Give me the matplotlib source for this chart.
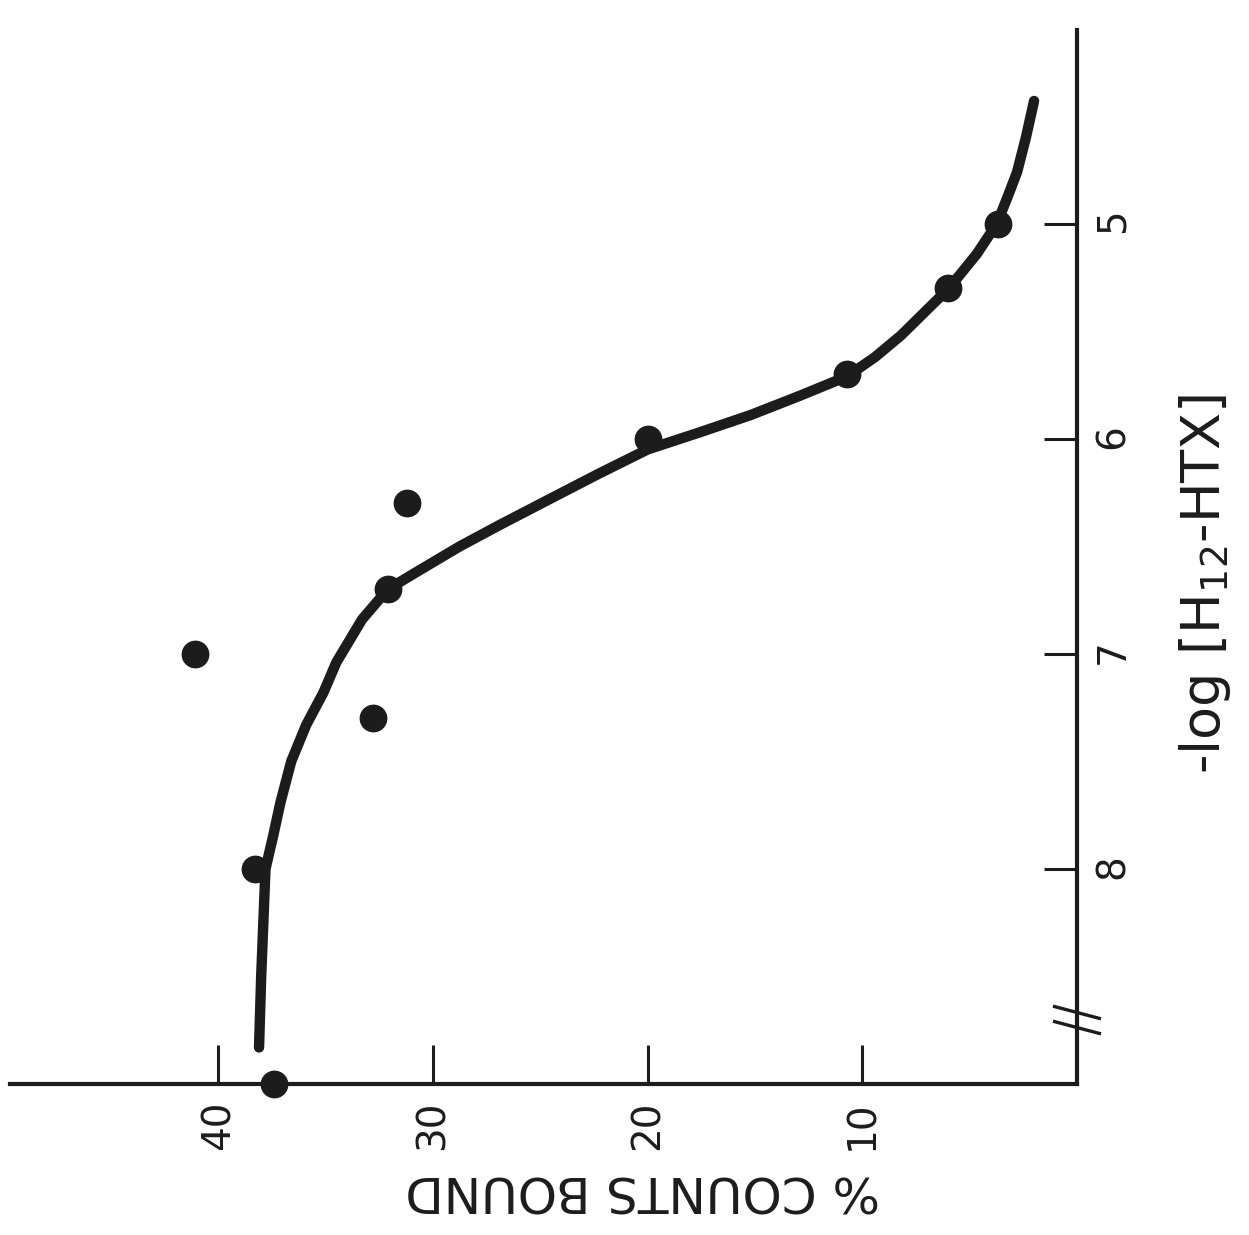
import matplotlib.pyplot as plt

# measured points: % counts bound vs -log[H12-HTX]  (9.0 = the zero/origin point)
pct_bound = [37.4, 38.3, 41.1, 32.8, 32.1, 31.2, 20.0, 10.7, 6.0, 3.7]
neg_log   = [9.0, 8.0, 7.0, 7.3, 6.7, 6.3, 6.0, 5.7, 5.3, 5.0]

# hand drawn fit
fit_pct = [38.1, 38.0, 37.8, 37.45, 37.1, 36.6, 35.9, 35.1, 34.5, 33.3, 32.1,
           30.6, 28.74, 26.87, 24.55, 22.22, 20.0, 17.56, 15.2, 12.9, 10.7, 9.4,
           8.2, 7.08, 5.96, 4.66, 3.73, 3.21, 2.79, 2.38, 2.0]
fit_log = [8.83, 8.5, 8.0, 7.85, 7.69, 7.50, 7.33, 7.18, 7.04, 6.84, 6.70,
           6.61, 6.50, 6.40, 6.28, 6.16, 6.05, 5.97, 5.89, 5.80, 5.71, 5.62,
           5.52, 5.41, 5.30, 5.14, 5.00, 4.87, 4.76, 4.60, 4.43]

pct_ticks = [40, 30, 20, 10]
log_ticks = [5, 6, 7, 8]

INK = '#1c1c1c'
W, H = 1249, 1235

fig = plt.figure(figsize=(W / 100, H / 100), dpi=100)
ax = fig.add_axes([10 / W, 1 - 1084 / H, (1077 - 10) / W, (1084 - 30) / H])

ax.plot(fit_pct, fit_log, color=INK, lw=7.5, solid_capstyle='round',
        solid_joinstyle='round', zorder=2)
ax.plot(pct_bound, neg_log, 'o', ms=19, color=INK, clip_on=False, zorder=3)

# chart is shown turned a quarter turn: % axis runs right->left, log axis top->bottom
ax.set_xlim(49.7, 0)
ax.set_ylim(9.0, 4.1)

for s in ['top', 'left']:
    ax.spines[s].set_visible(False)
for s in ['bottom', 'right']:
    ax.spines[s].set_linewidth(3.0)
    ax.spines[s].set_color(INK)

ax.yaxis.tick_right()
ax.set_xticks(pct_ticks)
ax.set_xticklabels([str(t) for t in pct_ticks])
ax.set_yticks(log_ticks)
ax.set_yticklabels([str(t) for t in log_ticks])
ax.tick_params(axis='x', direction='in', length=28, width=2.2, pad=12,
               labelsize=28, labelrotation=90, color=INK, labelcolor=INK)
ax.tick_params(axis='y', direction='in', length=24, width=2.2, pad=12,
               labelsize=28, labelrotation=90, color=INK, labelcolor=INK)

ax.set_xlabel('% COUNTS BOUND', rotation=180, fontsize=36, color=INK,
              ha='center', va='center')
ax.xaxis.set_label_coords(0.593, -0.10)
ax.yaxis.set_label_position('right')
ax.set_ylabel(r'$\text{-log}\ \left[\mathrm{H_{12}\text{-}HTX}\right]$',
              rotation=90, fontsize=39, color=INK, ha='center', va='center')
ax.yaxis.set_label_coords(1.12, 0.475)

# axis break marks on the log axis
brk = ax.get_yaxis_transform()
for y0 in [8.64, 8.71]:
    ax.plot([0.979, 1.021], [y0, y0 + 0.055], color=INK, lw=2.4,
            transform=brk, clip_on=False)

fig.savefig('out.png', dpi=100)
